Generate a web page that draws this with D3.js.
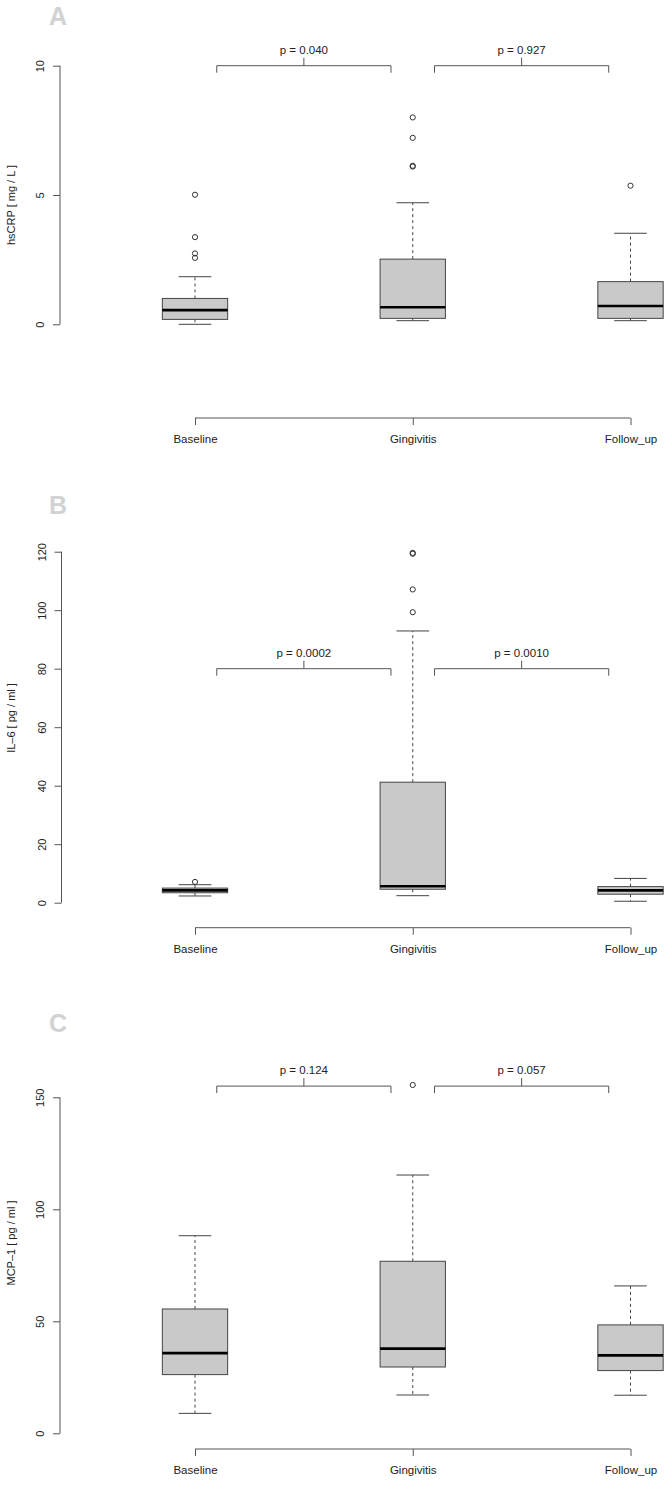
<!DOCTYPE html>
<html><head><meta charset="utf-8">
<script src="https://cdn.jsdelivr.net/npm/d3@7/dist/d3.min.js"></script>
<style>body{margin:0;background:#fff}svg{display:block}text{font-family:"Liberation Sans",Arial,sans-serif;fill:#222}</style>
</head><body>
<script>
const categories = ["Baseline", "Gingivitis", "Follow_up"];

// box stats: [lower whisker, Q1, median, Q3, upper whisker]
const hscrpStats = [[0.0, 0.19, 0.55, 1.0, 1.84], [0.14, 0.23, 0.66, 2.52, 4.7], [0.14, 0.23, 0.71, 1.65, 3.52]];
const hscrpOutliers = [[5.01, 3.37, 2.74, 2.57], [8.0, 7.21, 6.13, 6.1], [5.36]];
const hscrpTicks = [0, 5, 10];
const hscrpP = ["p = 0.040", "p = 0.927"];

const il6Stats = [[2.3, 3.4, 4.2, 5.0, 6.15], [2.4, 4.6, 5.6, 41.2, 92.9], [0.5, 2.9, 4.2, 5.5, 8.3]];
const il6Outliers = [[7.1], [119.6, 119.3, 107.1, 99.3], []];
const il6Ticks = [0, 20, 40, 60, 80, 100, 120];
const il6P = ["p = 0.0002", "p = 0.0010"];

const mcpStats = [[8.9, 26.2, 35.8, 55.5, 88.2], [17.1, 29.6, 37.8, 76.8, 115.3], [17.0, 28.0, 34.8, 48.4, 65.8]];
const mcpOutliers = [[], [155.5], []];
const mcpTicks = [0, 50, 100, 150];
const mcpP = ["p = 0.124", "p = 0.057"];

const panels = [
  {letter: "A", label: "hsCRP [ mg / L ]", stats: hscrpStats, outliers: hscrpOutliers, ticks: hscrpTicks, p: hscrpP,
   domain: [0, 10], range: [324.3, 65.7], bracket: 10, axisY: 418, letterY: 25, axisX: 60, labelY: 205},
  {letter: "B", label: "IL\u20136 [ pg / ml ]", stats: il6Stats, outliers: il6Outliers, ticks: il6Ticks, p: il6P,
   domain: [0, 120], range: [902.7, 551.7], bracket: 80, axisY: 927.7, letterY: 514, axisX: 61.5, labelY: 718},
  {letter: "C", label: "MCP\u20131 [ pg / ml ]", stats: mcpStats, outliers: mcpOutliers, ticks: mcpTicks, p: mcpP,
   domain: [0, 150], range: [1433.3, 1097.3], bracket: 155, axisY: 1449, letterY: 1032, axisX: 60, labelY: 1243}
];

const W = 672, H = 1495;
const svg = d3.select("body").append("svg").attr("width", W).attr("height", H);
const x = d3.scalePoint().domain(categories).range([195, 630.5]);
const step = x(categories[1]) - x(categories[0]);
const boxW = step * 0.3, capW = boxW / 2;
const axisCol = "#555", boxCol = "#444";

panels.forEach(pn => {
  const g = svg.append("g");
  const y = d3.scaleLinear().domain(pn.domain).range(pn.range);

  g.append("text").attr("x", 58).attr("y", pn.letterY).attr("text-anchor", "middle")
    .style("font-size", "25px").style("font-weight", "bold").style("fill", "#d2d2d2").text(pn.letter);

  // y axis
  const yAxis = d3.axisLeft(y).tickValues(pn.ticks).tickSize(7).tickFormat(d3.format("d"));
  const ya = g.append("g").attr("transform", `translate(${pn.axisX},0)`).call(yAxis);
  ya.select(".domain").attr("d", `M0,${y(pn.domain[0])}V${y(pn.ticks[pn.ticks.length-1])}`).attr("stroke", axisCol);
  ya.selectAll(".tick line").attr("stroke", axisCol);
  ya.selectAll(".tick text").attr("x", 0).attr("dx", 0).attr("dy", 0)
    .attr("transform", "translate(-16,0) rotate(-90)").attr("text-anchor", "middle")
    .style("font-size", "11px").style("font-family", "Liberation Sans, Arial, sans-serif").style("fill", "#222");

  g.append("text").attr("transform", `translate(15,${pn.labelY}) rotate(-90)`)
    .attr("text-anchor", "middle").style("font-size", "11px").text(pn.label);

  // x axis
  const xAxis = d3.axisBottom(x).tickSize(7).tickPadding(10);
  const xa = g.append("g").attr("transform", `translate(0,${pn.axisY})`).call(xAxis);
  xa.select(".domain").attr("d", `M${x(categories[0])},0H${x(categories[2])}`).attr("stroke", axisCol);
  xa.selectAll(".tick line").attr("stroke", axisCol);
  xa.selectAll(".tick text").style("font-size", "11.5px").style("font-family", "Liberation Sans, Arial, sans-serif").style("fill", "#222");

  // boxes
  categories.forEach((c, i) => {
    const s = pn.stats[i], cx = x(c);
    g.append("line").attr("x1", cx).attr("x2", cx).attr("y1", y(s[3])).attr("y2", y(s[4]))
      .attr("stroke", boxCol).attr("stroke-dasharray", "3,3");
    g.append("line").attr("x1", cx).attr("x2", cx).attr("y1", y(s[1])).attr("y2", y(s[0]))
      .attr("stroke", boxCol).attr("stroke-dasharray", "3,3");
    [s[0], s[4]].forEach(v => g.append("line").attr("x1", cx - capW / 2).attr("x2", cx + capW / 2)
      .attr("y1", y(v)).attr("y2", y(v)).attr("stroke", boxCol));
    g.append("rect").attr("x", cx - boxW / 2).attr("width", boxW).attr("y", y(s[3])).attr("height", y(s[1]) - y(s[3]))
      .attr("fill", "#c9c9c9").attr("stroke", boxCol).attr("stroke-width", 1);
    g.append("line").attr("x1", cx - boxW / 2).attr("x2", cx + boxW / 2).attr("y1", y(s[2])).attr("y2", y(s[2]))
      .attr("stroke", "#000").attr("stroke-width", 2.6);
    pn.outliers[i].forEach(v => g.append("circle").attr("cx", cx).attr("cy", y(v)).attr("r", 2.6)
      .attr("fill", "none").attr("stroke", "#333").attr("stroke-width", 1));
  });

  // brackets
  [[0, 1], [1, 2]].forEach(([a, b], k) => {
    const x1 = x(categories[a]) + step * 0.1, x2 = x(categories[b]) - step * 0.1, by = y(pn.bracket), mx = (x1 + x2) / 2;
    g.append("path").attr("d", `M${x1},${by + 7}V${by}H${x2}V${by + 7}M${mx},${by}V${by - 8}`)
      .attr("fill", "none").attr("stroke", axisCol);
    g.append("text").attr("x", mx).attr("y", by - 12).attr("text-anchor", "middle").style("font-size", "11.5px").text(pn.p[k]);
  });
});
</script>
</body></html>
